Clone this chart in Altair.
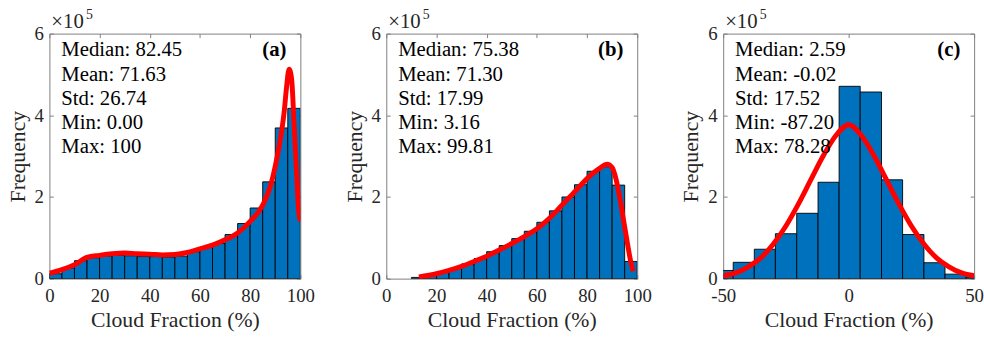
import altair as alt
import pandas as pd

FONT = "'Liberation Serif', 'Times New Roman', Times, serif"
W, H = 254, 248
BAR_FILL = "#0072BD"
CURVE = "#FF0000"
FRAME = "#7f7f7f"
TXT = "#262626"

# ---------------- data (counts in units of 1e5) ----------------
a_bin_start = [0, 5, 10, 15, 20, 25, 30, 35, 40, 45, 50, 55, 60, 65, 70, 75, 80, 85, 90, 95]
a_bin_end = [5, 10, 15, 20, 25, 30, 35, 40, 45, 50, 55, 60, 65, 70, 75, 80, 85, 90, 95, 100]
a_counts = [0.12, 0.26, 0.44, 0.51, 0.55, 0.57, 0.56, 0.54, 0.54, 0.53, 0.55, 0.66, 0.77, 0.86,
            1.08, 1.35, 1.73, 2.37, 3.69, 4.17]
a_curve_x = [0, 5, 10, 15, 20, 25, 30, 35, 40, 45, 50, 55, 60, 65, 70, 75, 80, 85, 88, 90,
             92, 93.5, 94.5, 95.5, 96.5, 97.5, 98.5, 99.3, 100]
a_curve_y = [0.13, 0.22, 0.34, 0.52, 0.57, 0.61, 0.63, 0.61, 0.60, 0.58, 0.59, 0.64, 0.73, 0.82,
             0.95, 1.12, 1.40, 1.80, 2.25, 2.75, 3.40, 4.05, 4.68, 5.13, 4.90, 3.80, 2.60, 1.70, 1.40]
a_stats = ["Median: 82.45", "Mean: 71.63", "Std: 26.74", "Min: 0.00", "Max: 100"]

b_bin_start = [10, 15, 20, 25, 30, 35, 40, 45, 50, 55, 60, 65, 70, 75, 80, 85, 90, 95]
b_bin_end = [15, 20, 25, 30, 35, 40, 45, 50, 55, 60, 65, 70, 75, 80, 85, 90, 95, 100]
b_counts = [0.03, 0.08, 0.16, 0.25, 0.36, 0.49, 0.66, 0.81, 0.98, 1.16, 1.38, 1.66, 2.00, 2.30,
            2.63, 2.74, 2.29, 0.42]
b_curve_x = [13, 20, 25, 30, 35, 40, 45, 50, 55, 60, 65, 70, 75, 80, 85, 88, 90, 91.5, 93,
             94.5, 96, 97.3, 98.4]
b_curve_y = [0.04, 0.12, 0.20, 0.30, 0.42, 0.55, 0.70, 0.86, 1.03, 1.22, 1.48, 1.80, 2.12, 2.45,
             2.70, 2.80, 2.72, 2.45, 2.00, 1.45, 0.90, 0.45, 0.18]
b_stats = ["Median: 75.38", "Mean: 71.30", "Std: 17.99", "Min: 3.16", "Max: 99.81"]

c_bin_start = [-54.4, -46.0, -37.6, -29.2, -20.7, -12.2, -3.8, 4.6, 13.1, 21.5, 30.0, 38.4, 46.8]
c_bin_end = [-46.0, -37.6, -29.2, -20.7, -12.2, -3.8, 4.6, 13.1, 21.5, 30.0, 38.4, 46.8, 55.3]
c_counts = [0.20, 0.40, 0.72, 1.10, 1.60, 2.36, 4.71, 4.57, 2.42, 1.08, 0.39, 0.11, 0.04]
c_curve_x = [-50, -45, -40, -35, -30, -25, -20, -15, -10, -5, 0, 5, 10, 15, 20, 25, 30, 35, 40, 45, 50]
c_curve_y = [0.07, 0.14, 0.29, 0.51, 0.85, 1.29, 1.83, 2.43, 3.02, 3.51, 3.77, 3.51, 3.02, 2.43,
             1.83, 1.29, 0.85, 0.51, 0.29, 0.14, 0.07]
c_stats = ["Median: 2.59", "Mean: -0.02", "Std: 17.52", "Min: -87.20", "Max: 78.28"]

ab_ticks = [0, 20, 40, 60, 80, 100]
c_ticks = [-50, 0, 50]
y_ticks = [0, 2, 4, 6]


def panel(starts, ends, counts, cx, cy, stats, tag, xdomain, xticks):
    bars = pd.DataFrame({"x0": starts, "x1": ends, "n": counts, "z": [0] * len(counts)})
    curve = pd.DataFrame({"x": cx, "y": cy})
    xs = alt.Scale(domain=xdomain, nice=False, zero=False)
    ys = alt.Scale(domain=[0, 6], nice=False, zero=False)

    bar_layer = alt.Chart(bars).mark_rect(
        fill=BAR_FILL, stroke="#000000", strokeWidth=0.9, clip=True
    ).encode(
        x=alt.X("x0:Q", scale=xs, axis=alt.Axis(
            orient="bottom", values=xticks, title="Cloud Fraction (%)", tickSize=0,
            domain=False, grid=False, labelPadding=8, titlePadding=4, labelFlush=False,
            labelExpr="'' + datum.value")),
        x2="x1:Q",
        y=alt.Y("n:Q", scale=ys, axis=alt.Axis(
            orient="left", values=y_ticks, title="Frequency", tickSize=0, domain=False,
            grid=False, labelPadding=6, titlePadding=5, labelExpr="'' + datum.value")),
        y2="z:Q",
    )

    tick_axis = dict(labels=False, domain=False, grid=False, ticks=True, tickSize=4,
                     tickColor=FRAME, tickWidth=1, title=None)
    line_layer = alt.Chart(curve).mark_line(
        color=CURVE, strokeWidth=5, interpolate="monotone", clip=True
    ).encode(
        x=alt.X("x:Q", scale=xs, axis=alt.Axis(orient="top", offset=-H, values=xticks, **tick_axis)),
        y=alt.Y("y:Q", scale=ys, axis=alt.Axis(orient="right", offset=-W, values=y_ticks, **tick_axis)),
    )
    ghost = alt.Chart(curve).mark_point(opacity=0).encode(
        x=alt.X("x:Q", scale=xs, axis=alt.Axis(orient="bottom", offset=-H, values=xticks, **tick_axis)),
        y=alt.Y("y:Q", scale=ys, axis=alt.Axis(orient="left", offset=-W, values=y_ticks, **tick_axis)),
    )

    stats_df = pd.DataFrame({"t": ["\n".join(stats)]})
    stats_layer = alt.Chart(stats_df).mark_text(
        align="left", baseline="alphabetic", font=FONT, fontSize=21, color="#000000",
        lineBreak="\n", lineHeight=24.5
    ).encode(x=alt.value(12), y=alt.value(23), text="t:N")

    tag_layer = alt.Chart(pd.DataFrame({"t": [tag]})).mark_text(
        align="right", baseline="alphabetic", font=FONT, fontSize=21, fontWeight="bold",
        color="#000000"
    ).encode(x=alt.value(W - 14), y=alt.value(23), text="t:N")

    exp_layer = alt.Chart(pd.DataFrame({"t": ["\u00d710"]})).mark_text(
        align="left", baseline="alphabetic", font=FONT, fontSize=21, color=TXT
    ).encode(x=alt.value(2), y=alt.value(-6), text="t:N")
    sup_layer = alt.Chart(pd.DataFrame({"t": ["5"]})).mark_text(
        align="left", baseline="alphabetic", font=FONT, fontSize=14, color=TXT
    ).encode(x=alt.value(37), y=alt.value(-15), text="t:N")

    return alt.layer(
        bar_layer, line_layer, ghost, stats_layer, tag_layer, exp_layer, sup_layer
    ).resolve_axis(x="independent", y="independent").properties(width=W, height=H)


pa = panel(a_bin_start, a_bin_end, a_counts, a_curve_x, a_curve_y, a_stats, "(a)", [0, 100], ab_ticks)
pb = panel(b_bin_start, b_bin_end, b_counts, b_curve_x, b_curve_y, b_stats, "(b)", [0, 100], ab_ticks)
pc = panel(c_bin_start, c_bin_end, c_counts, c_curve_x, c_curve_y, c_stats, "(c)", [-50, 50], c_ticks)

chart = alt.hconcat(pa, pb, pc, spacing=28).properties(
    padding={"left": 6, "top": 5, "right": 0, "bottom": 0},
    background="#ffffff",
).configure_view(
    stroke=FRAME, strokeWidth=1
).configure_axis(
    labelFont=FONT, titleFont=FONT, labelFontSize=19, titleFontSize=22,
    labelColor=TXT, titleColor=TXT, titleFontWeight="normal"
)

chart.save("out.html", embed_options={"renderer": "svg", "actions": False})
